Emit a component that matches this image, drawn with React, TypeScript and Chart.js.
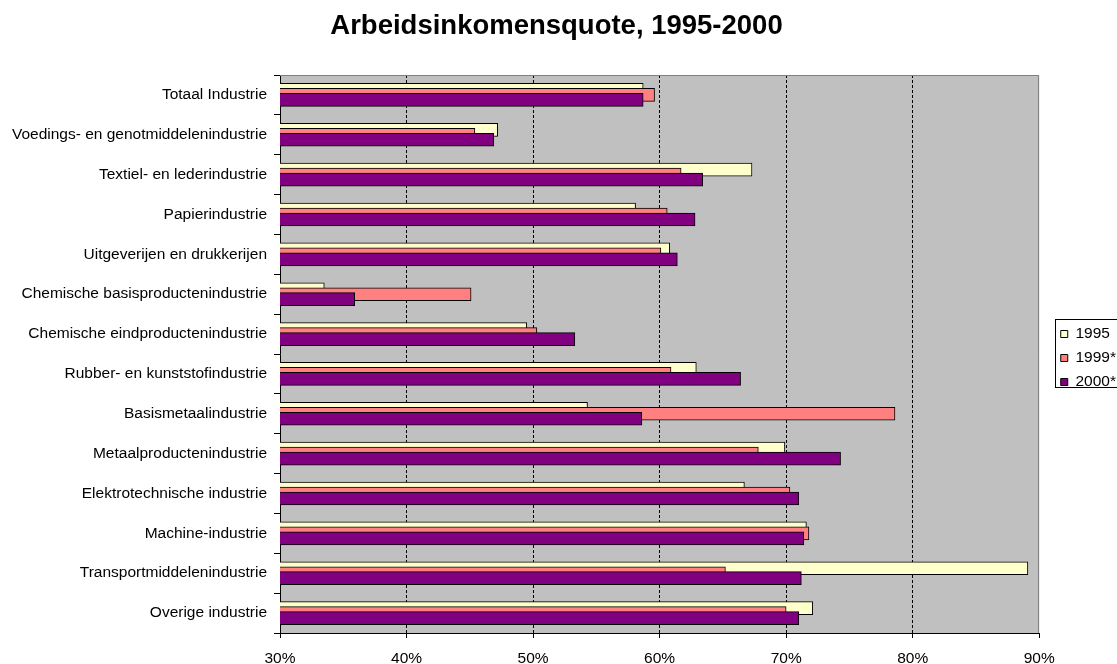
import React, { useEffect, useRef } from "react";
import { Chart, registerables } from "chart.js";

Chart.register(...registerables);

const FONT = "'Liberation Sans', Arial, sans-serif";
const FS = 15.5;

const categories = [
  "Totaal Industrie",
  "Voedings- en genotmiddelenindustrie",
  "Textiel- en lederindustrie",
  "Papierindustrie",
  "Uitgeverijen en drukkerijen",
  "Chemische basisproductenindustrie",
  "Chemische eindproductenindustrie",
  "Rubber- en kunststofindustrie",
  "Basismetaalindustrie",
  "Metaalproductenindustrie",
  "Elektrotechnische industrie",
  "Machine-industrie",
  "Transportmiddelenindustrie",
  "Overige industrie",
];

const seriesNames = ["1995", "1999*", "2000*"];
const values1995 = [58.7, 47.2, 67.3, 58.1, 60.8, 33.5, 49.5, 62.9, 54.3, 69.9, 66.7, 71.6, 89.1, 72.1];
const values1999 = [59.6, 45.4, 61.7, 60.6, 60.1, 45.1, 50.3, 60.9, 78.6, 67.8, 70.3, 71.8, 65.2, 70.0];
const values2000 = [58.7, 46.9, 63.4, 62.8, 61.4, 35.9, 53.3, 66.4, 58.6, 74.3, 71.0, 71.4, 71.2, 71.0];

const xMin = 30;
const xMax = 90;
const xStep = 10;

const seriesValues = [values1995, values1999, values2000];
const fills = ["#FFFFCC", "#FF8080", "#800080"];
// overlapping bars (Excel style): shift within category, later series on top
const slotShift = [-0.125, 0, 0.125];
const drawOrder = [3, 2, 1];

const plotBackground = {
  id: "plotBackground",
  beforeDraw(chart: any) {
    const { ctx, chartArea } = chart;
    ctx.save();
    ctx.fillStyle = "#C0C0C0";
    ctx.fillRect(chartArea.left, chartArea.top, chartArea.right - chartArea.left, chartArea.bottom - chartArea.top);
    ctx.restore();
  },
  beforeDatasetsDraw(chart: any) {
    const { ctx, chartArea } = chart;
    ctx.save();
    ctx.strokeStyle = "#808080";
    ctx.lineWidth = 1;
    ctx.beginPath();
    const t = Math.round(chartArea.top) + 0.5;
    const r = Math.round(chartArea.right) - 0.5;
    ctx.moveTo(chartArea.left, t);
    ctx.lineTo(r, t);
    ctx.lineTo(r, chartArea.bottom);
    ctx.stroke();
    ctx.restore();
  },
};

const LEGEND_PAD = 8.5;

const legendNudge = {
  id: "legendNudge",
  afterLayout(chart: any) {
    const l = chart.legend;
    if (!l) return;
    l.left += 13;
    l.right += 13;
    l.top += 4;
    l.bottom += 4;
  },
  afterDraw(chart: any) {
    const l = chart.legend;
    if (!l || !l.columnSizes || !l.columnSizes.length) return;
    const colH = l.columnSizes[0].height;
    const itemsTop = (l.top + LEGEND_PAD + l.bottom - colH) / 2;
    const x = Math.round(l.left + LEGEND_PAD - 6) + 0.5;
    const y = Math.round(itemsTop - 7) + 0.5;
    const ctx = chart.ctx;
    ctx.save();
    ctx.strokeStyle = "#000";
    ctx.lineWidth = 1;
    ctx.strokeRect(x, y, 200, 68);
    ctx.restore();
  },
};

export default function App() {
  const ref = useRef<HTMLCanvasElement | null>(null);

  useEffect(() => {
    if (!ref.current) return;
    Chart.defaults.font.family = FONT;
    Chart.defaults.color = "#000";

    const datasets = seriesNames.map((name, k) => ({
      label: name,
      data: categories.map((_, i) => ({ x: seriesValues[k][i], y: i + slotShift[k] })),
      backgroundColor: fills[k],
      borderColor: "#000",
      borderWidth: 1,
      barThickness: 13,
      grouped: false,
      order: drawOrder[k],
    }));

    const chart = new Chart(ref.current, {
      type: "bar",
      data: { datasets },
      options: {
        indexAxis: "y",
        animation: false,
        responsive: true,
        maintainAspectRatio: false,
        layout: { padding: { left: 0, right: 4, top: 0, bottom: 0 } },
        plugins: {
          title: {
            display: true,
            text: "Arbeidsinkomensquote, 1995-2000",
            font: { size: 27.5, weight: "bold", family: FONT },
            color: "#000",
            padding: { top: 10, bottom: 32 },
          },
          legend: {
            position: "right",
            fullSize: false,
            labels: {
              boxWidth: 7,
              boxHeight: 7,
              padding: LEGEND_PAD,
              font: { size: FS, family: FONT },
              color: "#000",
              sort: (a: any, b: any) => a.datasetIndex - b.datasetIndex,
            },
          },
          tooltip: { enabled: false },
        },
        scales: {
          x: {
            type: "linear",
            min: xMin,
            max: xMax,
            beginAtZero: false,
            afterFit: (axis: any) => {
              axis.height = 31;
            },
            ticks: {
              stepSize: xStep,
              callback: (v: any) => v + "%",
              font: { size: FS, family: FONT },
              color: "#000",
              padding: 11,
            },
            grid: {
              color: (c: any) =>
                c.tick && (c.tick.value === xMin || c.tick.value === xMax) ? "rgba(0,0,0,0)" : "#000",
              tickColor: "#000",
              tickLength: 5,
              drawTicks: true,
              lineWidth: 1,
            },
            border: { display: true, color: "#000", width: 1, dash: [3, 2] },
          },
          y: {
            type: "linear",
            reverse: true,
            min: -0.5,
            max: categories.length - 0.5,
            offset: false,
            afterFit: (axis: any) => {
              axis.width = 280;
            },
            afterBuildTicks: (axis: any) => {
              axis.ticks = categories.map((_, i) => ({ value: i }));
            },
            ticks: {
              autoSkip: false,
              callback: (v: any) => categories[Math.round(v)] ?? "",
              font: { size: FS, family: FONT },
              color: "#000",
              padding: 7,
            },
            grid: {
              offset: true,
              drawOnChartArea: false,
              drawTicks: true,
              tickLength: 6,
              color: "#000",
              tickColor: "#000",
            },
            border: { display: true, color: "#000", width: 1 },
          },
        },
      },
      plugins: [plotBackground, legendNudge],
    });
    return () => chart.destroy();
  }, []);

  return (
    <div style={{ position: "fixed", left: 0, top: 0, width: 1117, height: 664, background: "#fff" }}>
      <canvas ref={ref} />
    </div>
  );
}
